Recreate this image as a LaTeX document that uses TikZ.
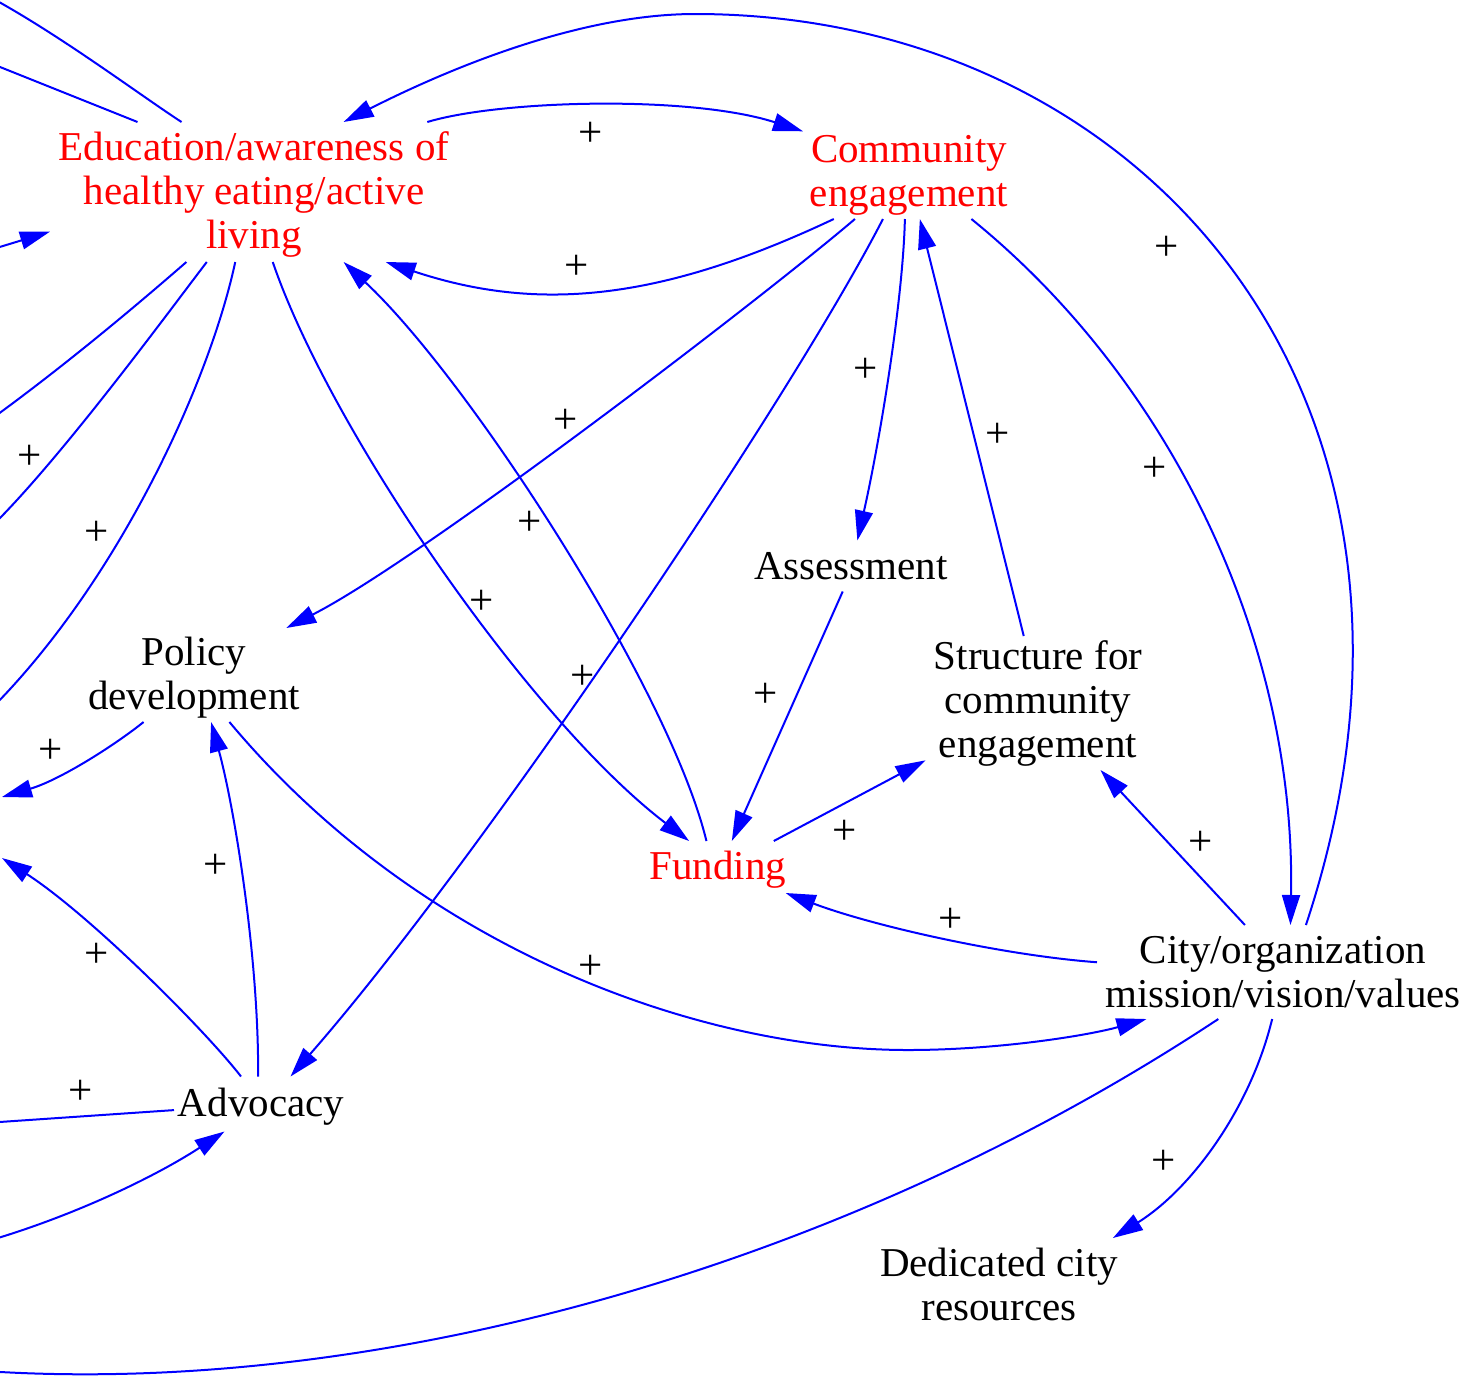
\documentclass[tikz,border=0pt]{standalone}
\usepackage{fontspec}
\setmainfont{Liberation Serif}
\usetikzlibrary{arrows.meta}
\definecolor{linkblue}{RGB}{0,0,255}
\definecolor{keyred}{RGB}{255,0,0}
% taller first line, so the text sits a little lower in its box
\newcommand{\topline}{\rule{0pt}{17pt}}

\begin{document}
\begin{tikzpicture}[x=0.5pt, y=-0.5pt,
  var/.style={rectangle, inner sep=0pt, outer sep=0pt, align=center,
              font=\fontsize{20.5}{22}\selectfont, text=black},
  key/.style={var, text=keyred},
  link/.style={draw=linkblue, line width=1pt, -{Triangle[length=15pt,width=9pt]}},
  tail/.style={draw=linkblue, line width=1pt},
  sign/.style={inner sep=0pt, font=\fontsize{21.5}{22}\selectfont}
]
\useasboundingbox (0,0) rectangle (1477,1383);
\fill[white] (0,0) rectangle (1477,1383);
\clip (0,0) rectangle (1477,1383);

% variables of the causal loop diagram
\node[key, minimum width=204pt, minimum height=70pt] (edu) at (254,192) {\topline Education/awareness of\\healthy eating/active\\living};
\node[key, minimum width=106pt, minimum height=47pt] (comm) at (909,172) {\topline Community\\engagement};
\node[var, minimum width=100pt, minimum height=25.5pt] (assess) at (851,566) {Assessment};
\node[var, minimum width=111pt, minimum height=47pt] (policy) at (194,675) {\topline Policy\\development};
\node[var, minimum width=112.5pt, minimum height=67pt] (struct) at (1038,703) {Structure for\\community\\engagement};
\node[key, minimum width=75pt, minimum height=26pt] (fund) at (718,867) {\topline Funding};
\node[var, minimum width=186pt, minimum height=47pt] (city) at (1283,972) {City/organization\\mission/vision/values};
\node[var, minimum width=87pt, minimum height=27.5pt] (adv) at (261,1104) {\topline Advocacy};
\node[var, minimum width=124.5pt, minimum height=46pt] (dedic) at (999,1284) {Dedicated city\\resources};

% loose ends of links leaving the visible area on the left
\coordinate (w17) at (-30,1370);
\coordinate (w19) at (2,858);
\coordinate (w20) at (-30,1124);
\coordinate (w21) at (-30,1246);
\coordinate (w22) at (2,797);
\coordinate (w23) at (-20,253);
\coordinate (w24) at (-20,59);
\coordinate (w25) at (-10,-3);
\coordinate (w26) at (-10,420);
\coordinate (w27) at (-10,528);
\coordinate (w28) at (-10,710);

% causal links
\draw[link] (edu.22) .. controls (500,100) and (690,95) .. (comm.159.4);
\draw[link] (comm.212.9) .. controls (658,302) and (536,312) .. (edu.332.1);
\draw[link] (city.64.9) .. controls (1480,400) and (1145,14) .. (695,14)
            .. controls (580,14) and (450,68) .. (edu.38);
\draw[link] (comm.323.3) .. controls (1170,380) and (1296,640) .. (city.81);
\draw[link] (comm.265) .. controls (903,300) and (880,440) .. (assess.76.5);
\draw[link] (struct.102.6) -- (comm.283.2);
\draw[link] (comm.221.5) .. controls (760,300) and (420,560) .. (policy.27.3);
\draw[link] (comm.241.5) .. controls (790,400) and (480,860) .. (adv.43.8);
\draw[link] (edu.285.9) .. controls (330,430) and (530,720) .. (fund.138);
\draw[link] (fund.114.6) .. controls (670,690) and (470,380) .. (edu.322.4);
\draw[link] (assess.252.9) -- (fund.62.5);
\draw[link] (fund.25.2) -- (struct.207.8);
\draw[link] (city.129.4) -- (struct.313.2);
\draw[link] (city.177.2) .. controls (1000,955) and (870,925) .. (fund.339.1);
\draw[link] (policy.307.5) .. controls (420,950) and (700,1050) .. (908,1050)
            .. controls (1000,1050) and (1090,1035) .. (city.199.9);
\draw[link] (city.257.5) .. controls (1250,1110) and (1190,1190) .. (dedic.22);
\draw[tail] (city.216.6) .. controls (837,1271) and (365,1400) .. (w17);
\draw[link] (adv.96) .. controls (259,960) and (235,810) .. (policy.290.7);
\draw[link] (adv.126.9) .. controls (205,1030) and (90,915) .. (w19);
\draw[tail] (adv.184) -- (w20);
\draw[link] (w21) .. controls (60,1222) and (150,1180) .. (adv.217.1);
\draw[link] (policy.223.2) .. controls (115,745) and (60,780) .. (w22);
\draw[link] (w23) -- (edu.191.9);
\draw[tail] (edu.149.3) -- (w24);
\draw[tail] (edu.136.7) .. controls (140,95) and (60,35) .. (w25);
\draw[tail] (edu.226.7) .. controls (145,298) and (70,362) .. (w26);
\draw[tail] (edu.236.5) .. controls (170,310) and (60,460) .. (w27);
\draw[tail] (edu.255.2) .. controls (210,380) and (120,580) .. (w28);

% polarity signs
\node[sign] (s1)  at (591,134)  {+};
\node[sign] (s2)  at (577,267)  {+};
\node[sign] (s3)  at (1167,248) {+};
\node[sign] (s4)  at (866,370)  {+};
\node[sign] (s5)  at (998,435)  {+};
\node[sign] (s6)  at (1155,469) {+};
\node[sign] (s7)  at (566,421)  {+};
\node[sign] (s8)  at (530,523)  {+};
\node[sign] (s9)  at (482,602)  {+};
\node[sign] (s10) at (583,677)  {+};
\node[sign] (s11) at (766,695)  {+};
\node[sign] (s12) at (845,832)  {+};
\node[sign] (s13) at (1201,843) {+};
\node[sign] (s14) at (951,920)  {+};
\node[sign] (s15) at (591,967)  {+};
\node[sign] (s16) at (1164,1162) {+};
\node[sign] (s17) at (216,866)  {+};
\node[sign] (s18) at (97,955)   {+};
\node[sign] (s19) at (81,1092)  {+};
\node[sign] (s20) at (51,751)   {+};
\node[sign] (s21) at (30,457)   {+};
\node[sign] (s22) at (97,533)   {+};
\end{tikzpicture}
\end{document}
